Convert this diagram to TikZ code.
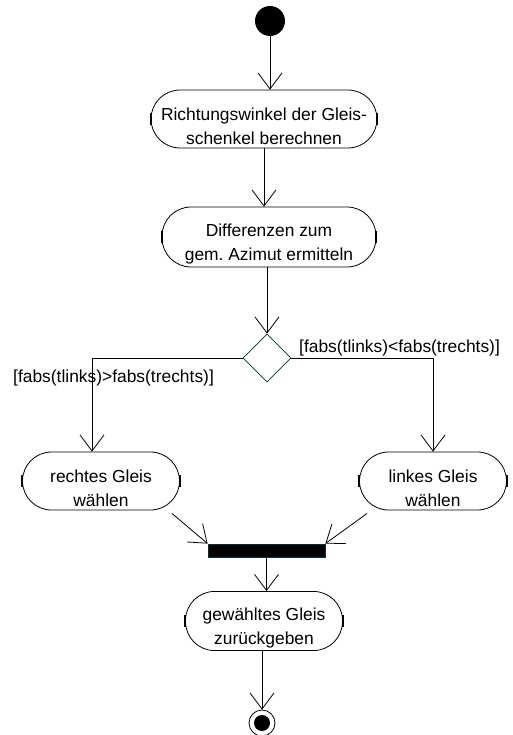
\documentclass[tikz,border=0pt]{standalone}
\usepackage{fontspec}
\setmainfont{Liberation Sans}
\usetikzlibrary{shapes.geometric, arrows.meta}
\definecolor{edgeteal}{RGB}{0,51,51}
\frenchspacing
\newcommand{\actstrut}{\rule{0pt}{27pt}}

\tikzset{
  activity/.style={rectangle, rounded corners=29pt, draw, line width=0.8pt, align=center,
    minimum height=58pt, inner sep=2pt, font=\fontsize{17.4}{24.5}\selectfont},
  flow/.style={-{Straight Barb[length=16pt,width=24pt]}, line width=0.8pt},
  endtick/.style={line width=2pt},
  guard/.style={font=\fontsize{17.4}{20}\selectfont, inner sep=0pt, anchor=west}
}

\begin{document}
\begin{tikzpicture}[x=1pt, y=-1pt]
    \useasboundingbox (0,0) rectangle (512,735);

    % Start
    \node[circle, fill=black, minimum size=30pt, inner sep=0pt] (start) at (270,21) {};

    % Actions
    \node[activity, minimum width=226pt] (winkel) at (264,119) {\actstrut Richtungswinkel der Gleis-\\schenkel berechnen};
    \node[activity, minimum width=214pt, minimum height=60pt] (diff) at (269,237) {\actstrut Differenzen zum\\gem. Azimut ermitteln};
    \node[activity, minimum width=157pt] (rechts) at (101,481) {\actstrut rechtes Gleis\\w\"ahlen};
    \node[activity, minimum width=147pt] (links) at (433,481) {\actstrut linkes Gleis\\w\"ahlen};
    \node[activity, minimum width=157pt] (rueck) at (264,621) {\actstrut gew\"ahltes Gleis\\zur\"uckgeben};

    % little marks at the ends
    \foreach \n in {winkel, diff, rechts, links, rueck} {
        \draw[endtick] ([yshift=6pt]\n.west) -- ([yshift=-6pt]\n.west);
        \draw[endtick] ([yshift=6pt]\n.east) -- ([yshift=-6pt]\n.east);
    }

    % Decision and join
    \node[diamond, draw=edgeteal, line width=0.8pt, minimum width=48pt, minimum height=48pt, inner sep=0pt] (decide) at (267,358) {};
    \node[fill=black, draw=edgeteal, line width=0.8pt, minimum width=117pt, minimum height=13pt, inner sep=0pt] (join) at (266.5,550.5) {};

    % End
    \node[circle, draw, line width=0.8pt, minimum size=26pt, inner sep=0pt] (stop) at (262,723) {};
    \node[circle, fill=black, minimum size=16pt, inner sep=0pt] (stopdot) at (stop) {};

    % Guards
    \node[guard] (gleft) at (13,378) {[fabs(tlinks)>fabs(trechts)]};
    \node[guard] (gright) at (299,348) {[fabs(tlinks)<fabs(trechts)]};

    % Flows
    \draw[flow] (start) -- (start |- winkel.north);
    \draw[flow] (winkel.south) -- (winkel.south |- diff.north);
    \draw[flow] (diff.south -| decide) -- (decide.north);
    \draw[flow] (decide.west) -| ([xshift=-9pt]rechts.north);
    \draw[flow] (decide.east) -| (links.north);
    \draw[flow] ([shift={(-8pt,-3pt)}]rechts.south east) -- (join.north west);
    \draw[flow] ([shift={(8pt,-3pt)}]links.south west) -- (join.north east);
    \draw[flow] (join.south) -- (join.south |- rueck.north);
    \draw[flow] (rueck.south -| stop) -- (stop.north);

\end{tikzpicture}
\end{document}
